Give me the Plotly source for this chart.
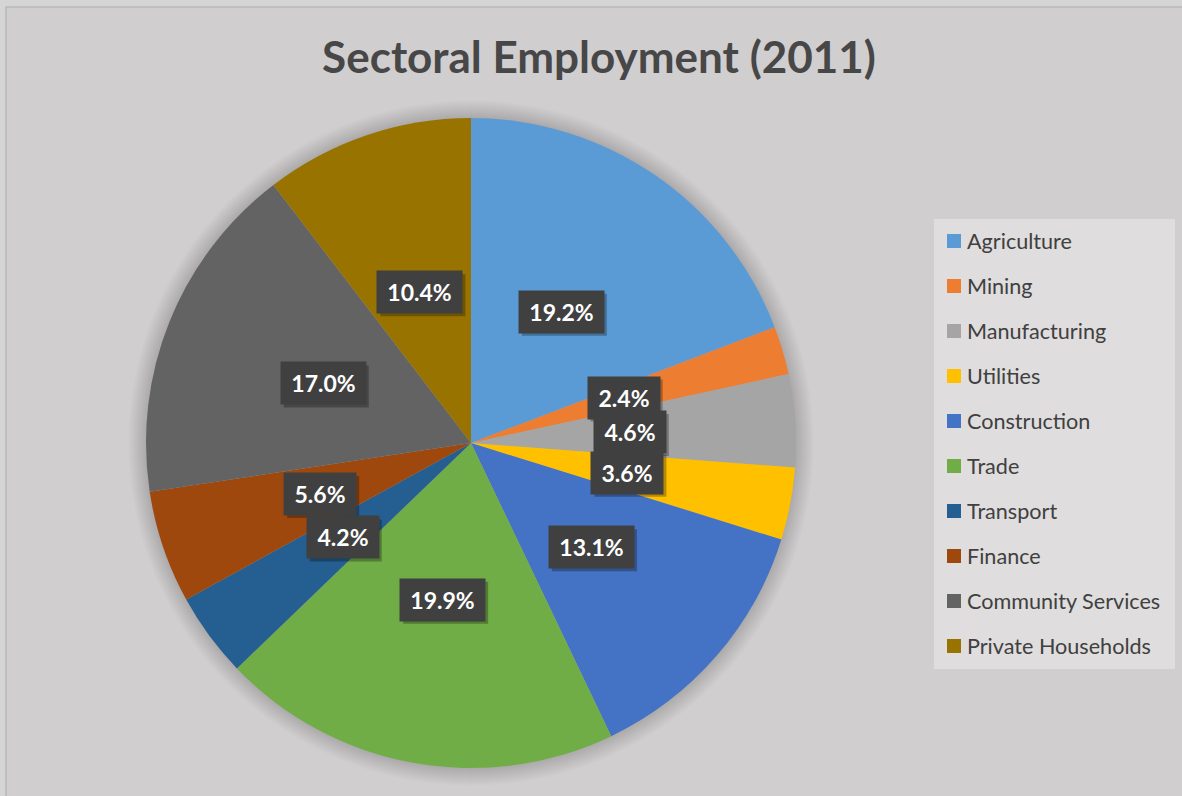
import math
import plotly.graph_objects as go

# Sector shares of total employment, 2011 (percent)
sectors = ["Agriculture", "Mining", "Manufacturing", "Utilities", "Construction",
           "Trade", "Transport", "Finance", "Community Services", "Private Households"]
shares = [19.2, 2.4, 4.6, 3.6, 13.1, 19.9, 4.2, 5.6, 17.0, 10.4]
colors = ["#5B9BD5", "#ED7D31", "#A5A5A5", "#FFC000", "#4472C4",
          "#70AD47", "#255E91", "#9E480E", "#636363", "#997300"]
title_text = "Sectoral Employment (2011)"

W, H = 1182, 796
BG = "#d0cecf"
FONT = "Lato"
LABEL_SIZE = 23

# pie geometry in pixels
cx, cy, R = 471, 443, 325


def px(x):
    return x / W


def py(y):
    return 1 - y / H


def label_width(s, size=LABEL_SIZE):
    # rough advance widths for bold Lato glyphs used in the labels
    adv = {".": 0.26, "%": 0.84}
    return sum(adv.get(ch, 0.58) for ch in s) * size


fig = go.Figure()
fig.add_trace(go.Pie(
    labels=sectors,
    values=shares,
    sort=False,
    direction="clockwise",
    rotation=0,
    marker=dict(colors=colors, line=dict(width=0)),
    textinfo="none",
    hovertemplate="%{label}: %{value:.1f}%<extra></extra>",
    domain=dict(x=[px(cx - R), px(cx + R)], y=[py(cy + R), py(cy - R)]),
    showlegend=False,
))

shapes = []
# chart frame
shapes.append(dict(type="rect", xref="paper", yref="paper",
                   x0=px(6), x1=px(W + 4), y0=py(H + 4), y1=py(7),
                   line=dict(color="#b9b8b8", width=1.5), fillcolor=BG, layer="below"))
# soft shadow around the pie
for k in range(18, 0, -1):
    r = R + k
    shapes.append(dict(type="circle", xref="paper", yref="paper",
                       x0=px(cx - r), x1=px(cx + r), y0=py(cy + r), y1=py(cy - r),
                       line=dict(width=0), fillcolor="rgba(0,0,0,0.009)", layer="below"))

annotations = []
# data labels: dark boxes at half radius along each slice's mid-angle
total = sum(shares)
cum = 0.0
label_r = 0.49 * R
pad, text_h = 10, 22
for v in shares:
    mid = (cum + v / 2) / total * 2 * math.pi
    cum += v
    lx = cx + label_r * math.sin(mid)
    ly = cy - label_r * math.cos(mid)
    s = f"{v:.1f}%"
    tw = round(label_width(s))
    bw, bh = tw + 2 * pad, text_h + 2 * pad
    # drop shadow to the lower right of the box
    sx, sy = lx + 3, ly + 3
    shapes.append(dict(type="rect", xref="paper", yref="paper",
                       x0=px(sx - bw / 2), x1=px(sx + bw / 2),
                       y0=py(sy + bh / 2), y1=py(sy - bh / 2),
                       line=dict(width=0), fillcolor="rgba(0,0,0,0.28)", layer="above"))
    annotations.append(dict(text=f"<b>{s}</b>", x=px(lx), y=py(ly), xref="paper", yref="paper",
                            showarrow=False, xanchor="center", yanchor="middle",
                            width=tw, height=text_h, borderpad=pad, bgcolor="#404040",
                            font=dict(family=FONT, size=LABEL_SIZE, color="white")))

# legend panel
lg_x0, lg_x1, lg_y0, lg_y1 = 934, 1175, 219, 669
shapes.append(dict(type="rect", xref="paper", yref="paper",
                   x0=px(lg_x0), x1=px(lg_x1), y0=py(lg_y1), y1=py(lg_y0),
                   line=dict(width=0), fillcolor="#dfdddd", layer="below"))
first_y, step, sq = 241, 45, 14
for i, (name, col) in enumerate(zip(sectors, colors)):
    yc = first_y + i * step
    shapes.append(dict(type="rect", xref="paper", yref="paper",
                       x0=px(947), x1=px(947 + sq), y0=py(yc + sq / 2), y1=py(yc - sq / 2),
                       line=dict(width=0), fillcolor=col, layer="above"))
    annotations.append(dict(text=name, x=px(965), y=py(yc), xref="paper", yref="paper",
                            showarrow=False, xanchor="left", yanchor="middle",
                            font=dict(family=FONT, size=21.6, color="#404040")))

fig.update_layout(
    width=W, height=H,
    margin=dict(l=0, r=0, t=0, b=0),
    paper_bgcolor="#d6d5d5",
    plot_bgcolor=BG,
    title=dict(text=f"<b>{title_text}</b>", x=px(599), y=py(58), xanchor="center",
               yanchor="middle", font=dict(family=FONT, size=44, color="#474747")),
    shapes=shapes,
    annotations=annotations,
    showlegend=False,
)

fig.write_html("out.html")
